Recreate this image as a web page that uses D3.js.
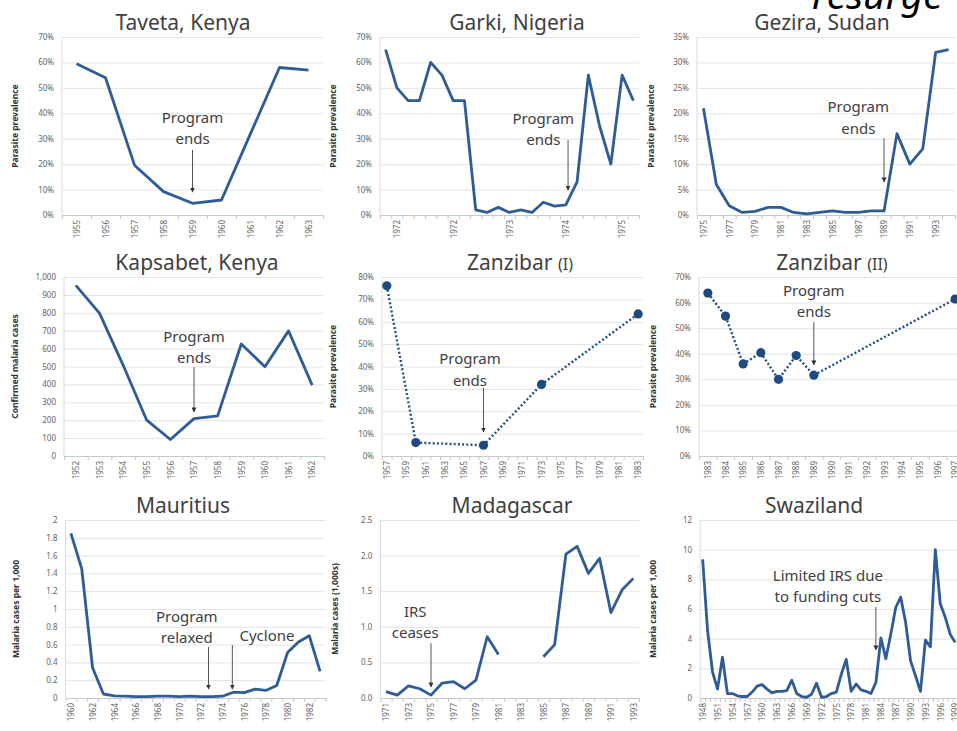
<!DOCTYPE html>
<html>
<head>
<meta charset="utf-8">
<script src="https://cdn.jsdelivr.net/npm/d3@7"></script>
<style>
  body { margin: 0; background: #fff; }
  svg { display: block; font-family: "Noto Sans", "Open Sans", sans-serif; }
  .title { fill: #404040; font-size: 21px; text-anchor: middle; }
  .title .sub { font-size: 16px; }
  .ylab { fill: #333; font-size: 8.5px; font-weight: bold; text-anchor: middle; }
  .note { fill: #404040; font-size: 15px; text-anchor: middle; }
  .big { font-size: 39px; font-style: italic; fill: #000; }
</style>
</head>
<body>
<svg id="chart" width="957" height="731"></svg>
<script>
// --- data ---
const tavetaYears = d3.range(1955, 1964);
const tavetaPrev = [0.595, 0.54, 0.196, 0.092, 0.046, 0.059, 0.32, 0.58, 0.57];

const garkiRounds = d3.range(0, 23);
const garkiPrev = [0.65, 0.50, 0.45, 0.45, 0.60, 0.55, 0.45, 0.45, 0.02, 0.01, 0.03, 0.01,
                   0.02, 0.01, 0.05, 0.035, 0.04, 0.13, 0.55, 0.35, 0.20, 0.55, 0.45];
const garkiTickAt = [1, 6, 11, 16, 21];
const garkiTickLabels = ['1972', '1972', '1973', '1974', '1975'];

const gezYears = d3.range(1975, 1995);
const gezPrev = [0.21, 0.06, 0.018, 0.005, 0.007, 0.015, 0.015, 0.005, 0.002, 0.005,
                 0.008, 0.005, 0.005, 0.008, 0.008, 0.16, 0.10, 0.13, 0.32, 0.325];
const gezTicks = [1975, 1977, 1979, 1981, 1983, 1985, 1987, 1989, 1991, 1993];

const kapYears = d3.range(1952, 1963);
const kapCases = [953, 798, 508, 200, 92, 209, 224, 626, 499, 699, 396];

const zanIRange = d3.range(1957, 1984);
const zanIYears = [1957, 1960, 1967, 1973, 1983];
const zanIPrev = [0.761, 0.06, 0.048, 0.32, 0.635];
const zanITicks = [1957, 1959, 1961, 1963, 1965, 1967, 1969, 1971, 1973, 1975, 1977, 1979, 1981, 1983];

const zanIIRange = d3.range(1983, 1998);
const zanIIYears = [1983, 1984, 1985, 1986, 1987, 1988, 1989, 1997];
const zanIIPrev = [0.637, 0.547, 0.36, 0.404, 0.30, 0.393, 0.316, 0.614];

const mauYears = d3.range(1960, 1984);
const mauCases = [1.85, 1.45, 0.34, 0.045, 0.025, 0.02, 0.015, 0.015, 0.02, 0.02, 0.015, 0.02,
                  0.015, 0.015, 0.02, 0.065, 0.06, 0.1, 0.085, 0.14, 0.51, 0.63, 0.7, 0.3];
const mauTicks = [1960, 1962, 1964, 1966, 1968, 1970, 1972, 1974, 1976, 1978, 1980, 1982];

const madYears = d3.range(1971, 1994);
const madCases = [0.09, 0.04, 0.17, 0.13, 0.04, 0.21, 0.23, 0.13, 0.25, 0.86, 0.61, null,
                  null, null, 0.58, 0.75, 2.02, 2.13, 1.75, 1.96, 1.2, 1.52, 1.68];
const madTicks = [1971, 1973, 1975, 1977, 1979, 1981, 1983, 1985, 1987, 1989, 1991, 1993];

const swaYears = d3.range(1948, 2000);
const swaCases = [9.35, 4.5, 1.75, 0.6, 2.75, 0.3, 0.3, 0.15, 0.1, 0.1, 0.4, 0.8, 0.9, 0.6,
                  0.35, 0.45, 0.45, 0.5, 1.2, 0.3, 0.1, 0.05, 0.25, 1.0, 0.05, 0.1, 0.3, 0.4,
                  1.6, 2.6, 0.45, 0.95, 0.55, 0.45, 0.3, 1.05, 4.05, 2.65, 4.3, 6.1, 6.8, 5.1,
                  2.5, 1.5, 0.45, 3.9, 3.45, 10.0, 6.35, 5.45, 4.3, 3.75];
const swaTicks = [1948, 1951, 1954, 1957, 1960, 1963, 1966, 1969, 1972, 1975, 1978, 1981,
                  1984, 1987, 1990, 1993, 1996, 1999];

const pct = d3.format('.0%');

const panels = [
  { title: 'Taveta, Kenya', tx: 183, x0: 62, x1: 323, y0: 37, y1: 215, labX: 15,
    ylab: 'Parasite prevalence', cats: tavetaYears, xs: tavetaYears, vals: tavetaPrev,
    ticks: tavetaYears, yMax: 0.7, yN: 7, yFmt: pct,
    notes: [{ lines: ['Program', 'ends'], tx: 1959, ty: 0.362, ax: 1959, a0: 0.256, a1: 0.09 }] },
  { title: 'Garki, Nigeria', tx: 517, x0: 380, x1: 639, y0: 37, y1: 215, labX: 333,
    ylab: 'Parasite prevalence', cats: garkiRounds, xs: garkiRounds, vals: garkiPrev,
    ticks: garkiTickAt, xFmt: i => garkiTickLabels[garkiTickAt.indexOf(i)],
    yMax: 0.7, yN: 7, yFmt: pct,
    notes: [{ lines: ['Program', 'ends'], tx: 14, ty: 0.358, ax: 16.2, a0: 0.295, a1: 0.098 }] },
  { title: 'Gezira, Sudan', tx: 822, x0: 697, x1: 955, y0: 37, y1: 215, labX: 651,
    ylab: 'Parasite prevalence', cats: gezYears, xs: gezYears, vals: gezPrev,
    ticks: gezTicks, yMax: 0.35, yN: 7, yFmt: pct,
    notes: [{ lines: ['Program', 'ends'], tx: 1987, ty: 0.2025, ax: 1989, a0: 0.151, a1: 0.065 }] },
  { title: 'Kapsabet, Kenya', tx: 197, x0: 64, x1: 324, y0: 277, y1: 456, labX: 15,
    ylab: 'Confirmed malaria cases', cats: kapYears, xs: kapYears, vals: kapCases,
    ticks: kapYears, yMax: 1000, yN: 10, yFmt: d3.format(','),
    notes: [{ lines: ['Program', 'ends'], tx: 1957, ty: 637, ax: 1957, a0: 497, a1: 246 }] },
  { title: 'Zanzibar ', sub: '(I)', tx: 520, x0: 382, x1: 643, y0: 277, y1: 456, labX: 333,
    ylab: 'Parasite prevalence', cats: zanIRange, xs: zanIYears, vals: zanIPrev,
    ticks: zanITicks, yMax: 0.8, yN: 8, yFmt: pct, dotted: true,
    notes: [{ lines: ['Program', 'ends'], tx: 1965.6, ty: 0.411, ax: 1967, a0: 0.304, a1: 0.107 }] },
  { title: 'Zanzibar ', sub: '(II)', tx: 832, x0: 699, x1: 964, y0: 277, y1: 456, labX: 653,
    ylab: 'Parasite prevalence', cats: zanIIRange, xs: zanIIYears, vals: zanIIPrev,
    ticks: zanIIRange, yMax: 0.7, yN: 7, yFmt: pct, dotted: true,
    notes: [{ lines: ['Program', 'ends'], tx: 1989, ty: 0.626, ax: 1989, a0: 0.524, a1: 0.356 }] },
  { title: 'Mauritius', tx: 183, x0: 65.5, x1: 325.5, y0: 520, y1: 698, labX: 16,
    ylab: 'Malaria cases per 1,000', cats: mauYears, xs: mauYears, vals: mauCases,
    ticks: mauTicks, yMax: 2, yN: 10, yFmt: d3.format('.1~f'),
    notes: [{ lines: ['Program', 'relaxed'], tx: 1970.7, ty: 0.854, ax: 1972.7, a0: 0.573, a1: 0.1 },
            { lines: ['Cyclone'], tx: 1978.1, ty: 0.64, ax: 1974.9, a0: 0.596, a1: 0.1 }] },
  { title: 'Madagascar', tx: 512, x0: 380.4, x1: 639, y0: 520, y1: 698, labX: 335,
    ylab: 'Malaria cases (1,000s)', cats: madYears, xs: madYears, vals: madCases,
    ticks: madTicks, yMax: 2.5, yN: 5, yFmt: d3.format('.1f'),
    notes: [{ lines: ['IRS', 'ceases'], tx: 1973.6, ty: 1.138, ax: 1975, a0: 0.77, a1: 0.155 }] },
  { title: 'Swaziland', tx: 814, x0: 700.2, x1: 957.6, y0: 520, y1: 698, labX: 653,
    ylab: 'Malaria cases per 1,000', cats: swaYears, xs: swaYears, vals: swaCases,
    ticks: swaTicks, yMax: 12, yN: 6, yFmt: d3.format('d'),
    notes: [{ lines: ['Limited IRS due', 'to funding cuts'], tx: 1973.3, ty: 7.89, ax: 1983, a0: 6.13, a1: 3.24 }] },
];

const svg = d3.select('#chart');

svg.append('defs').append('marker')
  .attr('id', 'arrow')
  .attr('viewBox', '0 0 10 10')
  .attr('refX', 9).attr('refY', 5)
  .attr('markerWidth', 5).attr('markerHeight', 5)
  .attr('orient', 'auto')
  .append('path').attr('d', 'M0,0L10,5L0,10z').attr('fill', '#333');

function drawPanel(p) {
  const g = svg.append('g');
  const n = p.cats.length;
  const x = d3.scaleLinear().domain([p.cats[0] - 0.5, p.cats[n - 1] + 0.5]).range([p.x0, p.x1]);
  const y = d3.scaleLinear().domain([0, p.yMax]).range([p.y1, p.y0]);

  // gridlines and value labels
  const ya = g.append('g')
    .attr('transform', `translate(${p.x0},0)`)
    .call(d3.axisLeft(y).ticks(p.yN).tickFormat(p.yFmt).tickSize(-(p.x1 - p.x0)).tickPadding(8))
    .attr('font-family', null).attr('font-size', null);
  ya.select('.domain').remove();
  ya.selectAll('.tick line').attr('stroke', '#e4e4e4');
  ya.selectAll('.tick text').attr('fill', '#636363').style('font-size', '8px');

  g.append('line')
    .attr('x1', p.x0).attr('x2', p.x0).attr('y1', p.y0).attr('y2', p.y1)
    .attr('stroke', '#d9d9d9');

  // category boundary ticks
  const bounds = p.cats.map(c => c - 0.5).concat([p.cats[n - 1] + 0.5]);
  const xt = g.append('g')
    .attr('transform', `translate(0,${p.y1})`)
    .call(d3.axisBottom(x).tickValues(bounds).tickFormat('').tickSize(4).tickSizeOuter(0));
  xt.selectAll('path, line').attr('stroke', '#c8c8c8');

  // rotated year labels
  const xl = g.append('g')
    .attr('transform', `translate(0,${p.y1})`)
    .call(d3.axisBottom(x).tickValues(p.ticks).tickFormat(p.xFmt || (d => d)).tickSize(0))
    .attr('font-family', null).attr('font-size', null);
  xl.select('.domain').remove();
  xl.selectAll('text')
    .attr('transform', 'rotate(-90)')
    .attr('text-anchor', 'end')
    .attr('x', -5).attr('y', 0).attr('dy', '0.35em')
    .attr('fill', '#636363').style('font-size', '8px');

  // axis title
  g.append('text')
    .attr('class', 'ylab')
    .attr('transform', `translate(${p.labX},${(p.y0 + p.y1) / 2}) rotate(-90)`)
    .attr('dy', '0.35em')
    .text(p.ylab);

  // chart title
  const t = g.append('text').attr('class', 'title').attr('x', p.tx).attr('y', p.y0 - 7).text(p.title);
  if (p.sub) t.append('tspan').attr('class', 'sub').text(p.sub);

  // series
  const pts = p.xs.map((v, i) => [v, p.vals[i]]);
  const line = d3.line().defined(d => d[1] != null).x(d => x(d[0])).y(d => y(d[1]));
  const col = p.dotted ? '#234f86' : '#2f5b96';
  g.append('path')
    .datum(pts)
    .attr('d', line)
    .attr('fill', 'none')
    .attr('stroke', col)
    .attr('stroke-width', p.dotted ? 2.4 : 2.8)
    .attr('stroke-linejoin', 'round')
    .attr('stroke-dasharray', p.dotted ? '2,2.2' : null);
  if (p.dotted) {
    g.selectAll('circle.pt').data(pts).join('circle')
      .attr('class', 'pt')
      .attr('cx', d => x(d[0])).attr('cy', d => y(d[1]))
      .attr('r', 4.6).attr('fill', '#1f4a80');
  }

  // annotations
  p.notes.forEach(a => {
    a.lines.forEach((s, i) => {
      g.append('text').attr('class', 'note')
        .attr('x', x(a.tx)).attr('y', y(a.ty) + i * 21.5)
        .text(s);
    });
    g.append('line')
      .attr('x1', x(a.ax)).attr('x2', x(a.ax))
      .attr('y1', y(a.a0)).attr('y2', y(a.a1))
      .attr('stroke', '#555').attr('stroke-width', 1)
      .attr('marker-end', 'url(#arrow)');
  });
}

panels.forEach(drawPanel);

svg.append('text').attr('class', 'big').attr('x', 812).attr('y', 9).text('resurge');
</script>
</body>
</html>
